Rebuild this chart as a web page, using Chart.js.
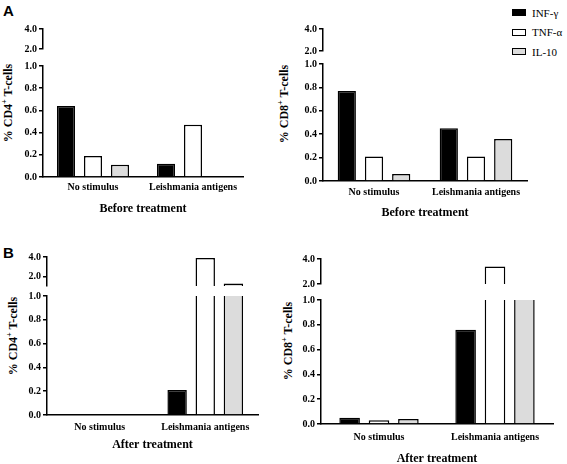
<!DOCTYPE html>
<html>
<head>
<meta charset="utf-8">
<script src="https://cdn.jsdelivr.net/npm/chart.js@4.4.1/dist/chart.umd.min.js"></script>
<style>
  body { margin: 0; background: #fff; width: 567px; height: 464px; position: relative; overflow: hidden; font-family: 'Liberation Serif', serif; }
  canvas { position: absolute; }
  .ytitle { position: absolute; font-weight: bold; font-size: 12px; white-space: nowrap; color: #000;
            transform: translate(-50%, -50%) rotate(-90deg); }
  .ytitle sup { font-size: 8px; }
  .letter { position: absolute; font-family: 'Liberation Sans', Arial, sans-serif; font-weight: bold; font-size: 15px; line-height: 15px; }
  #legend { position: absolute; left: 512px; top: 3px; font-size: 11px; }
  #legend div { height: 19.5px; display: flex; align-items: center; }
  #legend span.box { display: inline-block; width: 12px; height: 5px; border: 1px solid #000; margin-right: 6px; }
</style>
</head>
<body>
<div class="letter" style="left:3px;top:3px">A</div>
<div class="letter" style="left:3px;top:245px">B</div>
<div class="ytitle" style="left:8px;top:103px">% CD4<sup>+</sup> T-cells</div>
<div class="ytitle" style="left:284px;top:104px">% CD8<sup>+</sup> T-cells</div>
<div class="ytitle" style="left:13px;top:336px">% CD4<sup>+</sup> T-cells</div>
<div class="ytitle" style="left:288px;top:341px">% CD8<sup>+</sup> T-cells</div>
<div id="legend"></div>
<script>
// categories and series
const categories = ['No stimulus', 'Leishmania antigens'];
const seriesNames = ['INF-γ', 'TNF-α', 'IL-10'];
const seriesColors = ['#000000', '#ffffff', '#dcdcdc'];

// axis ticks (lower and upper part of the broken axis)
const lowerTicks = [0, 0.2, 0.4, 0.6, 0.8, 1.0];
const upperTicks = [2, 4];

// A - before treatment
const cd4BeforeInf = [0.64, 0.12];
const cd4BeforeTnf = [0.19, 0.47];
const cd4BeforeIl10 = [0.11, 0];
const cd8BeforeInf = [0.77, 0.45];
const cd8BeforeTnf = [0.21, 0.21];
const cd8BeforeIl10 = [0.06, 0.36];

// B - after treatment
const cd4AfterInf = [0, 0.21];
const cd4AfterTnf = [0, 3.9];
const cd4AfterIl10 = [0, 1.25];
const cd8AfterInf = [0.05, 0.76];
const cd8AfterTnf = [0.03, 3.4];
const cd8AfterIl10 = [0.04, 1.5];

const tickFont = { family: "'Liberation Serif', serif", size: 10, weight: 'bold' };
const catFont = { family: "'Liberation Serif', serif", size: 10, weight: 'bold' };
const titleFont = { family: "'Liberation Serif', serif", size: 12, weight: 'bold' };

const panels = [
  { data: [cd4BeforeInf, cd4BeforeTnf, cd4BeforeIl10], xTitle: 'Before treatment',
    axisX: 43, right: 243, low: [66, 177], up: [29, 49], upMin: 2, labelPad: 4, xH: 39, cp: 0.81, bp: 0.67 },
  { data: [cd8BeforeInf, cd8BeforeTnf, cd8BeforeIl10], xTitle: 'Before treatment',
    axisX: 323, right: 527, low: [64, 181], up: [29, 51], upMin: 2, labelPad: 5, xH: 39, cp: 0.8, bp: 0.67 },
  { data: [cd4AfterInf, cd4AfterTnf, cd4AfterIl10], xTitle: 'After treatment',
    axisX: 47, right: 258, low: [296, 415], up: [257, 286], upMin: 1, labelPad: 6, xH: 37, cp: 0.8, bp: 0.69 },
  { data: [cd8AfterInf, cd8AfterTnf, cd8AfterIl10], xTitle: 'After treatment',
    axisX: 321, right: 553, low: [300, 424], up: [259, 284], upMin: 2, labelPad: 7, xH: 42, cp: 0.76, bp: 0.7 }
];

const yW = 40, padTop = 8, padRight = 12;

function build(p, isLow) {
  const [top, bottom] = isLow ? p.low : p.up;
  const cv = document.createElement('canvas');
  cv.width = yW + (p.right - p.axisX) + padRight;
  cv.height = padTop + (bottom - top) + (isLow ? p.xH : 8);
  cv.style.left = (p.axisX - yW) + 'px';
  cv.style.top = (top - padTop) + 'px';
  document.body.appendChild(cv);

  const xScale = {
    display: isLow,
    grid: { display: false, drawTicks: false, tickLength: 0 },
    border: { color: '#000', width: 1.5 },
    ticks: { font: catFont, color: '#000', padding: p.labelPad, autoSkip: false, maxRotation: 0 },
    title: { display: true, text: p.xTitle, font: titleFont, color: '#000', padding: 0 }
  };
  if (isLow) xScale.afterFit = s => { s.height = p.xH; };

  new Chart(cv, {
    type: 'bar',
    data: {
      labels: categories,
      datasets: seriesNames.map((n, i) => ({
        label: n,
        data: p.data[i],
        backgroundColor: seriesColors[i],
        borderColor: '#000',
        borderWidth: 1.5,
        borderSkipped: 'start',
        clip: 0,
        categoryPercentage: p.cp,
        barPercentage: p.bp
      }))
    },
    options: {
      responsive: false,
      animation: false,
      devicePixelRatio: 1,
      layout: { padding: { top: padTop, right: padRight, bottom: isLow ? 0 : 8, left: 0 } },
      plugins: { legend: { display: false }, tooltip: { enabled: false } },
      scales: {
        x: xScale,
        y: {
          min: isLow ? 0 : p.upMin,
          max: isLow ? 1 : 4,
          afterBuildTicks: s => { s.ticks = (isLow ? lowerTicks : upperTicks).map(v => ({ value: v })); },
          afterFit: s => { s.width = yW; },
          grid: { drawOnChartArea: false, color: '#000', lineWidth: 1.5, tickLength: 4 },
          border: { color: '#000', width: 1.5 },
          ticks: { font: tickFont, color: '#000', padding: 2, callback: v => v.toFixed(1) }
        }
      }
    }
  });
}

panels.forEach(p => { build(p, false); build(p, true); });

// legend
const legend = document.getElementById('legend');
seriesNames.forEach((n, i) => {
  const row = document.createElement('div');
  const box = document.createElement('span');
  box.className = 'box';
  box.style.background = seriesColors[i];
  row.appendChild(box);
  row.appendChild(document.createTextNode(n));
  legend.appendChild(row);
});
</script>
</body>
</html>
